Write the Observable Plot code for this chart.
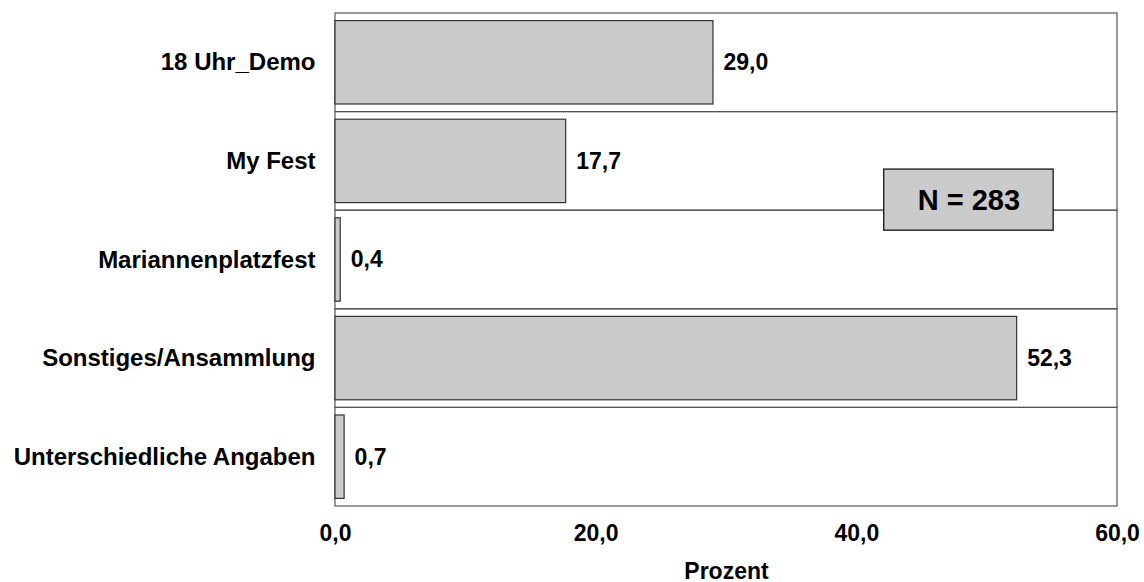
<!DOCTYPE html>
<html>
<head>
<meta charset="utf-8">
<script src="https://cdn.jsdelivr.net/npm/d3@7"></script>
<script src="https://cdn.jsdelivr.net/npm/@observablehq/plot@0.6"></script>
<style>
  html, body { margin: 0; padding: 0; background: #fff; }
</style>
</head>
<body>
<div id="chart"></div>
<script>
const categories = ["18 Uhr_Demo", "My Fest", "Mariannenplatzfest", "Sonstiges/Ansammlung", "Unterschiedliche Angaben"];
const values = [29.0, 17.7, 0.4, 52.3, 0.7];
const xTicks = [0, 20, 40, 60];
const axisTitle = "Prozent";
const noteText = "N = 283";
const noteCategory = "My Fest";
const noteX1 = 42.1, noteX2 = 55.1;

const data = categories.map((c, i) => ({category: c, value: values[i]}));
const fmt = d => d.toFixed(1).replace(".", ",");

const chart = Plot.plot({
  width: 1144,
  height: 582,
  marginLeft: 335,
  marginRight: 27,
  marginTop: 13,
  marginBottom: 76,
  style: {fontFamily: "'Liberation Sans', Arial, sans-serif", fontWeight: "bold", fontSize: "23px", color: "#000", background: "#fff"},
  x: {domain: [0, 60]},
  y: {domain: categories, padding: 0, round: false},
  marks: [
    Plot.barX(categories, {y: d => d, x1: 0, x2: 60, fill: "none", stroke: "#555", strokeWidth: 1.2}),
    Plot.barX(data, {y: "category", x1: 0, x2: "value", fill: "#cbcbcb", stroke: "#333", strokeWidth: 1.2, insetTop: 7.6, insetBottom: 7.6}),
    Plot.text(data, {y: "category", x: "value", text: d => fmt(d.value), textAnchor: "start", dx: 10, fontSize: 23, fontWeight: "bold", fill: "#000"}),
    Plot.barX([noteText], {y: () => noteCategory, x1: noteX1, x2: noteX2, dy: 20, insetTop: 37.5, insetBottom: 0, fill: "#cbcbcb", stroke: "#222", strokeWidth: 1.4}),
    Plot.text([noteText], {y: () => noteCategory, x: (noteX1 + noteX2) / 2, text: d => d, dy: 39, fontSize: 29, fontWeight: "bold", fill: "#000"}),
    Plot.axisY({tickSize: 0, tickPadding: 20, label: null, fontSize: 24, fontWeight: "bold"}),
    Plot.axisX({ticks: xTicks, tickFormat: fmt, tickSize: 0, tickPadding: 18, label: axisTitle, labelAnchor: "center", labelArrow: "none", labelOffset: 72, fontSize: 23, fontWeight: "bold"})
  ]
});
document.getElementById("chart").appendChild(chart);
</script>
</body>
</html>
